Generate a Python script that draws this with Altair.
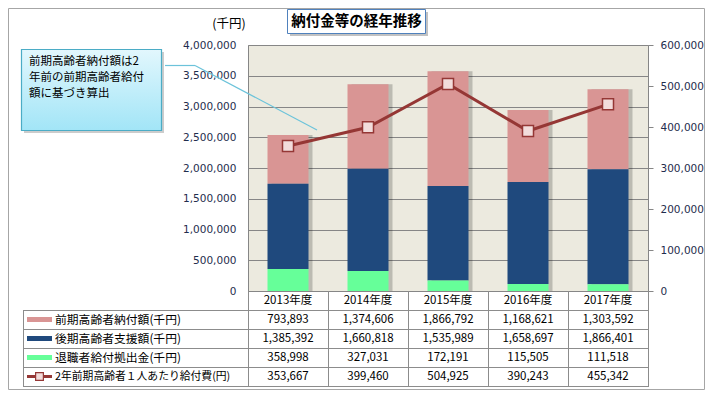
import altair as alt
import pandas as pd

# ---------------- data ----------------
years = ["2013年度", "2014年度", "2015年度", "2016年度", "2017年度"]
zenki_nofu = [793893, 1374606, 1866792, 1168621, 1303592]        # 前期高齢者納付額(千円)
kouki_shien = [1385392, 1660818, 1535989, 1658697, 1866401]      # 後期高齢者支援額(千円)
taishoku_kyoshutsu = [358998, 327031, 172191, 115505, 111518]    # 退職者給付拠出金(千円)
per_person = [353667, 399460, 504925, 390243, 455342]            # 2年前期高齢者１人あたり給付費(円)

series_names = ["前期高齢者納付額(千円)", "後期高齢者支援額(千円)", "退職者給付拠出金(千円)"]
line_name = "2年前期高齢者１人あたり給付費(円)"
title_text = "納付金等の経年推移"
unit_text = "(千円)"
callout_lines = ["前期高齢者納付額は2", "年前の前期高齢者給付", "額に基づき算出"]

left_ticks = list(range(0, 4000001, 500000))
right_ticks = list(range(0, 600001, 100000))

# ---------------- styles ----------------
bar_colors = ["#D99594", "#1F497D", "#66FF99"]
line_color = "#953735"
marker_fill = "#F2DCDB"
grid_color = "#868686"
table_color = "#8C8C8C"
label_color = "#1F2D4D"
cjk = "Noto Sans CJK JP"
num_font = "Noto Sans CJK JP"

# ---------------- tables ----------------
rows = []
all_vals = [zenki_nofu, kouki_shien, taishoku_kyoshutsu]
for i, yr in enumerate(years):
    for k, name in enumerate(series_names):
        rows.append({"year": yr, "series": name, "value": all_vals[k][i], "order": 2 - k})
bars_df = pd.DataFrame(rows)
tot_df = pd.DataFrame({"year": years,
                       "total": [a + b + c for a, b, c in zip(zenki_nofu, kouki_shien, taishoku_kyoshutsu)]})
line_df = pd.DataFrame({"year": years, "v": per_person})
one = pd.DataFrame({"a": [0]})

xenc = alt.X("year:N", sort=years,
             scale=alt.Scale(domain=years, paddingInner=0, paddingOuter=0), axis=None)

left_axis = alt.Axis(values=left_ticks, format=",d", title=None, grid=True, gridColor=grid_color,
                     domain=False, ticks=False, labelPadding=12, labelFont="DejaVu Sans",
                     labelFontSize=10.5, labelColor=label_color, orient="left")
left_scale = alt.Scale(domain=[0, 4000000], nice=False)

shadow = alt.Chart(tot_df).mark_bar(size=41, xOffset=4, color="#000000", opacity=0.2).encode(
    x=xenc,
    y=alt.Y("total:Q", scale=left_scale, axis=left_axis),
)
bars = alt.Chart(bars_df).mark_bar(size=41).encode(
    x=xenc,
    y=alt.Y("value:Q", stack="zero", scale=left_scale, axis=left_axis),
    color=alt.Color("series:N", scale=alt.Scale(domain=series_names, range=bar_colors), legend=None),
    order=alt.Order("order:Q", sort="ascending"),
)
bar_layer = alt.layer(shadow, bars)

right_axis = alt.Axis(orient="right", values=right_ticks, format=",d", title=None, grid=False,
                      domain=False, ticks=True, tickSize=5, tickColor=grid_color, labelPadding=7,
                      labelFont="DejaVu Sans", labelFontSize=10.5, labelColor=label_color)
right_scale = alt.Scale(domain=[0, 600000], nice=False)
line = alt.Chart(line_df).mark_line(color=line_color, strokeWidth=3).encode(
    x=xenc, y=alt.Y("v:Q", scale=right_scale, axis=right_axis))
pts = alt.Chart(line_df).mark_point(shape="square", size=121, filled=True, fill=marker_fill,
                                    stroke=line_color, strokeWidth=1.5, opacity=1).encode(
    x=xenc, y=alt.Y("v:Q", scale=right_scale, axis=right_axis))
line_layer = alt.layer(line, pts)


def seg(x1, y1, x2, y2, color=table_color, w=1):
    return alt.Chart(one).mark_rule(color=color, strokeWidth=w).encode(
        x=alt.value(x1), x2=alt.value(x2), y=alt.value(y1), y2=alt.value(y2))


def box(x1, y1, x2, y2, **kw):
    return alt.Chart(one).mark_rect(**kw).encode(
        x=alt.value(x1), x2=alt.value(x2), y=alt.value(y1), y2=alt.value(y2))


def txt(s, x, y, **kw):
    return alt.Chart(one).mark_text(text=s, **kw).encode(x=alt.value(x), y=alt.value(y))


ann = []
# outer border
ann.append(box(-239.5, -36.5, 456.5, 344.5, fill="#FFFFFF", fillOpacity=0, stroke="#A6A6A6", strokeWidth=1))

# title box
ann.append(box(42, -33, 180, -9, fill="#9A9A9A", opacity=0.6))
ann.append(box(39.5, -35.5, 177.5, -11.5, fill="#FFFFFF", stroke="#4F81BD", strokeWidth=1))
ann.append(txt(title_text, 108.5, -23.5, font=cjk, fontSize=14.5, fontWeight="bold", color="#000000",
               align="center", baseline="middle"))
# unit
ann.append(txt(unit_text, -19, -21, font=cjk, fontSize=12.5, color="#000000", align="center", baseline="middle"))

# callout
grad = alt.LinearGradient(gradient="linear",
                          stops=[alt.GradientStop(color="#E2F7FD", offset=0),
                                 alt.GradientStop(color="#A2E5F7", offset=1)],
                          x1=0, x2=0, y1=0, y2=1)
ann.append(box(-224, 7, -84, 88, fill="#9A9A9A", opacity=0.5))
ann.append(box(-226.5, 4.5, -86.5, 85.5, fill=grad, stroke="#4BACC6", strokeWidth=1.2))
ann.append(txt(callout_lines, -219, 17, font=cjk, fontSize=11.5, color="#000000", align="left",
               baseline="middle", lineHeight=16))
ann.append(seg(-83, 20.5, -53, 20.5, color="#6CC3DA", w=1.2))
ann.append(seg(-53, 20.5, 69, 85, color="#6CC3DA", w=1.2))

# table
tb = [246, 265, 284, 303, 322, 341]
centers = [(tb[i] + tb[i + 1]) / 2 for i in range(5)]
for yy in tb[1:]:
    ann.append(seg(-225, yy + 0.5, 400.5, yy + 0.5))
ann.append(seg(-224.5, tb[1], -224.5, tb[-1] + 1))
for xx in [0.5, 80.5, 160.5, 240.5, 320.5, 400.5]:
    ann.append(seg(xx, tb[0], xx, tb[-1] + 1))

hdr_df = pd.DataFrame({"year": years})
ann.append(alt.Chart(hdr_df).mark_text(font=num_font, fontSize=11.5, color="#000000", baseline="middle").encode(
    x=xenc, y=alt.value(centers[0]), text="year:N"))
table_vals = [zenki_nofu, kouki_shien, taishoku_kyoshutsu, per_person]
for r, vals in enumerate(table_vals):
    df = pd.DataFrame({"year": years, "val": vals})
    ann.append(alt.Chart(df).mark_text(font=num_font, fontSize=11.5, color="#000000", baseline="middle").encode(
        x=xenc, y=alt.value(centers[r + 1]), text=alt.Text("val:Q", format=",d")))

labels = series_names + [line_name]
label_sizes = [11.8, 11.8, 11.8, 10.8]
for r, name in enumerate(labels):
    cy = centers[r + 1]
    if r < 3:
        ann.append(seg(-221, cy, -196, cy, color=bar_colors[r], w=5))
    else:
        ann.append(seg(-221, cy, -196, cy, color=line_color, w=3))
        ann.append(alt.Chart(one).mark_point(shape="square", size=60, filled=True, fill=marker_fill,
                                             stroke=line_color, strokeWidth=1.2, opacity=1).encode(
            x=alt.value(-208.5), y=alt.value(cy)))
    ann.append(txt(name, -193, cy, font=cjk, fontSize=label_sizes[r], color="#000000", align="left",
                   baseline="middle"))

chart = alt.layer(bar_layer, line_layer, *ann).resolve_scale(y="independent").properties(
    width=400, height=246,
    autosize=alt.AutoSizeParams(type="none"),
    padding={"left": 240, "top": 37, "right": 57, "bottom": 99},
    background="#FFFFFF",
).configure_view(stroke=grid_color, fill="#ECEADF", strokeWidth=1)

chart.save("out.html", embed_options={"renderer": "svg", "actions": False})
